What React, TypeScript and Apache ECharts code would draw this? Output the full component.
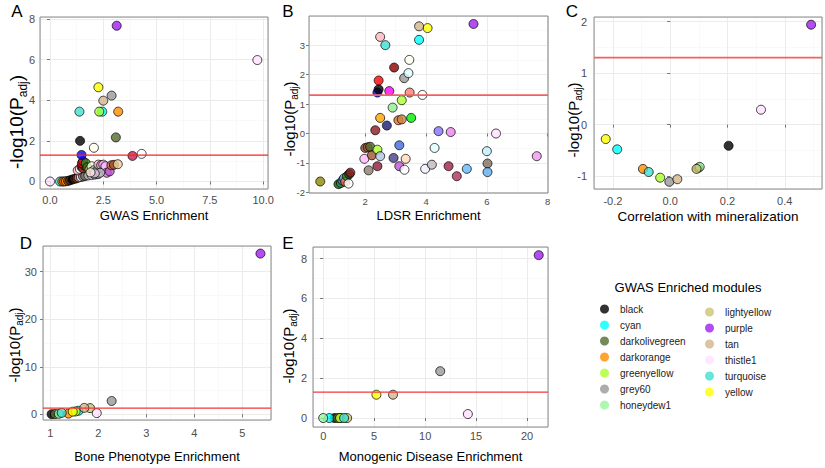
import React, { useEffect, useRef } from 'react';
import * as echarts from 'echarts';

const FONT = '"Liberation Sans", Arial, Helvetica, sans-serif';

// ---- GWAS enriched modules (legend, panels C, D, E) ----
const modules = ['black', 'cyan', 'darkolivegreen', 'darkorange', 'greenyellow', 'grey60', 'honeydew1',
  'lightyellow', 'purple', 'tan', 'thistle1', 'turquoise', 'yellow'];
const moduleColors = ['#000000', '#00FFFF', '#556B2F', '#FF8C00', '#ADFF2F', '#999999', '#98F5A0',
  '#CDC673', '#A020F0', '#D2B48C', '#FFE1FF', '#40E0D0', '#FFFF00'];

// Panel C: correlation with mineralization vs -log10(Padj)
const corrX = [0.204, -0.185, 0.098, -0.095, -0.035, -0.003, 0.103, 0.092, 0.492, 0.025, 0.317, -0.075, -0.225];
const corrY = [-0.41, -0.48, -0.84, -0.86, -1.03, -1.11, -0.82, -0.86, 1.94, -1.06, 0.29, -0.92, -0.28];

// Panel D: bone phenotype enrichment
const boneX = [1.03, 1.59, 1.1, 1.38, 1.53, 2.28, 1.18, 1.83, 5.38, 1.71, 1.97, 1.24, 1.47];
const boneY = [0.03, 0.75, 0.05, 0.15, 0.6, 2.8, 0.1, 1.3, 33.8, 1.35, 0.25, 0.3, 0.55];

// Panel E: monogenic disease enrichment
const monoX = [1.1, 0.6, 1.4, 1.7, 1.65, 11.48, 0.0, 2.35, 21.14, 6.85, 14.19, 2.05, 5.22];
const monoY = [0, 0, 0, 0, 0, 2.35, 0, 0, 8.17, 1.17, 0.2, 0, 1.17];

// Panel A: GWAS enrichment [x, y, module colour]
const gwasPoints: [number, number, string][] = [
  [0.0, 0.0, '#FFE1FF'], [0.47, 0.0, '#40E0D0'], [0.58, 0.0, '#FF7F24'], [0.66, 0.0, '#CD661D'],
  [0.75, 0.01, '#FF8C00'], [0.85, 0.03, '#8B4513'], [0.94, 0.06, '#2F2F2F'], [1.05, 0.1, '#000000'],
  [1.15, 0.13, '#4A2A0A'], [1.25, 0.16, '#8B2323'], [1.35, 0.2, '#CD9B9B'], [1.45, 0.22, '#FFFFFF'],
  [1.55, 0.25, '#8B8378'], [1.65, 0.27, '#6E6E6E'], [1.8, 0.3, '#BEBEBE'], [1.95, 0.32, '#D3D3D3'],
  [2.1, 0.34, '#A9A9A9'], [2.25, 0.36, '#B0B0B0'],
  [1.3, 0.55, '#FFC0CB'], [1.4, 0.62, '#FFFFFF'], [1.48, 0.72, '#8B0000'], [1.55, 0.65, '#A52A2A'],
  [1.6, 0.8, '#006400'], [1.5, 0.9, '#FF0000'], [1.55, 1.0, '#B22222'], [1.68, 0.9, '#228B22'],
  [1.75, 0.7, '#556B2F'], [1.85, 0.6, '#9ACD32'], [1.95, 0.75, '#FFFFE0'], [2.05, 0.55, '#ADD8E6'],
  [2.15, 0.48, '#87CEEB'], [2.27, 0.83, '#FFB6C1'], [2.4, 0.8, '#DDA0DD'], [2.5, 0.83, '#EEAEEE'],
  [2.6, 0.75, '#FFBBFF'], [2.66, 0.43, '#DA70D6'], [2.8, 0.5, '#BA55D3'], [2.88, 0.8, '#CD6839'],
  [3.0, 0.82, '#A0522D'], [3.18, 0.85, '#EECFA1'], [2.35, 0.43, '#BEBEBE'], [2.1, 0.4, '#D8BFD8'],
  [1.9, 0.45, '#FFE4E1'],
  [4.3, 1.36, '#FFFFFF'], [3.87, 1.26, '#C71F4F'], [1.48, 1.31, '#0000FF'], [2.06, 1.66, '#FFFFF0'],
  [3.09, 2.17, '#556B2F'], [1.41, 2.0, '#000000'], [3.2, 3.44, '#FF8C00'], [2.45, 3.44, '#00FFFF'],
  [2.31, 3.44, '#ADFF2F'], [1.38, 3.44, '#40E0D0'], [2.5, 3.98, '#D2B48C'], [2.89, 4.23, '#999999'],
  [2.27, 4.64, '#FFFF00'], [9.73, 5.98, '#FFE1FF'], [3.13, 7.67, '#A020F0'],
];

// Panel B: LDSR enrichment [x, y, module colour]
const ldsrPoints: [number, number, string][] = [
  [0.52, -1.63, '#8B8B00'], [1.12, -1.72, '#006400'], [1.2, -1.68, '#2E8B57'], [1.25, -1.6, '#4682B4'],
  [1.3, -1.52, '#6CA6CD'], [1.34, -1.64, '#FF6347'], [1.4, -1.45, '#228B22'], [1.45, -1.7, '#FFFFFF'],
  [1.47, -1.38, '#2F4F2F'], [1.51, -1.33, '#8B1A1A'],
  [1.97, -0.86, '#FFBBFF'], [2.0, -0.49, '#8B4C39'], [2.08, -0.47, '#A0522D'], [2.16, -0.45, '#556B2F'],
  [2.11, -1.25, '#8B7D6B'], [2.22, -0.74, '#A0522D'], [2.4, -0.55, '#ADFF2F'], [2.49, -0.77, '#B0C4DE'],
  [2.4, -1.11, '#8B1C3A'], [2.93, -0.83, '#483D8B'], [3.12, -0.4, '#4169E1'], [3.12, -1.11, '#BA55D3'],
  [3.29, -1.23, '#FFFFFF'], [3.33, -0.86, '#FFDAB9'], [3.97, -1.2, '#F0F0FF'], [4.19, -1.06, '#C0B8C0'],
  [4.28, -0.49, '#E0FFFF'], [4.74, -1.11, '#A0204A'], [5.01, -1.45, '#B03060'], [5.34, -1.2, '#63B8FF'],
  [6.0, -0.6, '#BFEFFF'], [6.02, -1.02, '#7F6F5F'], [6.02, -1.31, '#5CACEE'], [7.64, -0.77, '#EE99EE'],
  [2.33, 0.11, '#8B1A1A'], [2.71, 0.27, '#191970'], [3.09, 0.45, '#E07030'], [3.2, 0.48, '#CD853F'],
  [2.49, 0.53, '#FFA500'], [3.51, 0.53, '#00EE00'], [2.9, 0.88, '#90EE90'], [3.2, 1.13, '#ADFF2F'],
  [4.41, 0.08, '#8470FF'], [4.81, 0.05, '#EE82EE'], [6.3, 0.0, '#FFE1FF'],
  [2.4, 1.39, '#0000FF'], [2.44, 1.5, '#000000'], [2.79, 1.44, '#FF00FF'], [3.46, 1.39, '#FA8072'],
  [3.88, 1.31, '#FFFFFF'], [2.44, 1.8, '#FF0000'], [3.28, 1.88, '#999999'], [3.42, 2.05, '#E0FFFF'],
  [2.95, 2.24, '#8B0000'], [3.45, 2.5, '#FFFFF0'], [2.66, 3.0, '#40E0D0'], [3.77, 3.18, '#00FFFF'],
  [2.49, 3.28, '#FFB6C1'], [4.05, 3.58, '#FFFF00'], [3.77, 3.64, '#D2B48C'], [5.56, 3.72, '#A020F0'],
];

const threshold = 1.3; // -log10(0.05)

const panelLetters = ['A', 'B', 'C', 'D', 'E'];
const xTitles = ['GWAS Enrichment', 'LDSR Enrichment', 'Correlation with mineralization',
  'Bone Phenotype Enrichment', 'Monogenic Disease Enrichment'];
const xSteps = [2.5, 2, 0.2, 1, 5];
const ySteps = [2, 1, 1, 10, 2];
const xDecimals = [1, 0, 1, 0, 0];
const xRanges = [[-0.47, 10.23], [0.15, 8.01], [-0.266, 0.53], [0.85, 5.6], [-1.0, 22.05]];
const yRanges = [[-0.37, 8.1], [-2.02, 3.99], [-1.25, 2.09], [-1.2, 35.4], [-0.45, 8.58]];

// ---- layout (positions/styles) ----
// yt: centre of the rotated y title
const LAYOUT = [
  { grid: { left: 40, top: 17, width: 228, height: 172 }, letter: [17, 11], tick: 11, xm: 5, ym: 5, xGap: 20, yt: [16, 122], xName: 13, yName: 19, ySub: 12, red: '#FF2020', redW: 1.3 },
  { grid: { left: 309, top: 16, width: 239, height: 177 }, letter: [288, 11], tick: 9.5, xm: 3, ym: 4, xGap: 16, yt: [289, 119], xName: 13, yName: 15, ySub: 10, red: '#F26060', redW: 1.8 },
  { grid: { left: 594, top: 17, width: 228, height: 172 }, letter: [572, 11], tick: 11, xm: 6, ym: 7, xGap: 20, yt: [573, 120], xName: 13.5, yName: 15, ySub: 10, red: '#F26060', redW: 1.8 },
  { grid: { left: 43, top: 246, width: 228, height: 174 }, letter: [26, 243], tick: 11, xm: 7, ym: 6, xGap: 30, yt: [14, 345], xName: 13, yName: 15, ySub: 10, red: '#F03838', redW: 1.2 },
  { grid: { left: 313, top: 247, width: 235, height: 180 }, letter: [288, 243], tick: 11, xm: 3, ym: 6, xGap: 23, yt: [288, 346], xName: 13, yName: 15, ySub: 10, red: '#F03838', redW: 1.2 },
];

function buildOption(): any {
  const grid = LAYOUT.map((l) => ({
    ...l.grid, show: true, backgroundColor: 'transparent', borderColor: '#8a8a8a', borderWidth: 1, z: 2,
  }));
  const common = (i: number) => ({
    type: 'value', gridIndex: i, z: 1,
    axisLine: { show: false },
    axisTick: { show: true, length: 3, lineStyle: { color: '#555', width: 0.8 } },
    splitLine: { show: true, lineStyle: { color: '#EBEBEB', width: 1 } },
    minorTick: { show: false, splitNumber: 2 },
    minorSplitLine: { show: true, lineStyle: { color: '#F5F5F5', width: 0.6 } },
  });
  const xAxis = LAYOUT.map((l, i) => ({
    ...common(i),
    min: xRanges[i][0], max: xRanges[i][1], minInterval: xSteps[i], maxInterval: xSteps[i], splitNumber: 5,
    axisLabel: {
      color: '#4d4d4d', fontSize: l.tick, fontFamily: FONT, margin: l.xm, showMinLabel: false, showMaxLabel: false,
      formatter: (v: number) => v.toFixed(xDecimals[i]),
    },
    name: xTitles[i], nameLocation: 'middle', nameGap: l.xGap,
    nameTextStyle: { fontSize: l.xName, color: '#000', fontFamily: FONT },
  }));
  const yAxis = LAYOUT.map((l, i) => ({
    ...common(i),
    min: yRanges[i][0], max: yRanges[i][1], minInterval: ySteps[i], maxInterval: ySteps[i], splitNumber: 5,
    axisLabel: {
      color: '#4d4d4d', fontSize: l.tick, fontFamily: FONT, margin: l.ym, showMinLabel: false, showMaxLabel: false,
      formatter: (v: number) => String(Math.round(v)),
    },
  }));

  const pointStyle = { borderColor: '#000', borderWidth: 0.9 };
  const series: any[] = [];
  series.push({
    name: 'GWAS', type: 'scatter', xAxisIndex: 0, yAxisIndex: 0, symbolSize: 9, z: 3,
    itemStyle: pointStyle,
    data: gwasPoints.map((p) => ({ value: [p[0], p[1]], itemStyle: { color: p[2] } })),
  });
  series.push({
    name: 'LDSR', type: 'scatter', xAxisIndex: 1, yAxisIndex: 1, symbolSize: 9, z: 3,
    itemStyle: pointStyle,
    data: ldsrPoints.map((p) => ({ value: [p[0], p[1]], itemStyle: { color: p[2] } })),
  });
  const perModule = [
    { idx: 2, xs: corrX, ys: corrY },
    { idx: 3, xs: boneX, ys: boneY },
    { idx: 4, xs: monoX, ys: monoY },
  ];
  perModule.forEach((pm) => {
    modules.forEach((m, k) => {
      series.push({
        name: m, type: 'scatter', xAxisIndex: pm.idx, yAxisIndex: pm.idx, symbolSize: 9, z: 3,
        itemStyle: { ...pointStyle, color: moduleColors[k] },
        data: [[pm.xs[k], pm.ys[k]]],
      });
    });
  });
  // significance threshold (Padj = 0.05) across each panel
  LAYOUT.forEach((l, i) => {
    series.push({
      name: 'Padj 0.05 #' + i, type: 'line', xAxisIndex: i, yAxisIndex: i, z: 5, silent: true,
      symbol: 'none', showSymbol: false, color: l.red,
      lineStyle: { color: l.red, width: l.redW, type: 'solid' },
      itemStyle: { color: l.red },
      data: [[xRanges[i][0], threshold], [xRanges[i][1], threshold]],
    });
  });

  const legendCommon = {
    orient: 'vertical', icon: 'circle', itemWidth: 21, itemHeight: 9, itemGap: 6, selectedMode: false,
    textStyle: { fontSize: 10, color: '#222', fontFamily: FONT },
    itemStyle: { borderWidth: 0 },
  };

  return {
    animation: false,
    backgroundColor: '#ffffff',
    grid, xAxis, yAxis, series,
    legend: [
      { ...legendCommon, data: modules.slice(0, 7), left: 595, top: 299 },
      { ...legendCommon, data: modules.slice(7), left: 700, top: 302 },
    ],
    graphic: [
      ...LAYOUT.map((l, i) => ({
        type: 'text', x: l.letter[0], y: l.letter[1], z: 10,
        style: { text: panelLetters[i], fontSize: 17, fontFamily: FONT, fill: '#000', textAlign: 'center', textVerticalAlign: 'middle' },
      })),
      ...LAYOUT.map((l) => ({
        type: 'text', x: l.yt[0], y: l.yt[1], rotation: Math.PI / 2, z: 10,
        style: {
          text: '{t|-log10(P}{s|adj}{t|)}', textAlign: 'center', textVerticalAlign: 'middle',
          rich: {
            t: { fontSize: l.yName, fill: '#000', fontFamily: FONT },
            s: { fontSize: l.ySub, fill: '#000', fontFamily: FONT, padding: [Math.round(l.ySub * 1.1), 0, 0, 0] },
          },
        },
      })),
      {
        type: 'text', x: 688, y: 287, z: 10,
        style: { text: 'GWAS Enriched modules', fontSize: 13, fontFamily: FONT, fill: '#000', textAlign: 'center', textVerticalAlign: 'middle' },
      },
    ],
  };
}

export default function App() {
  const ref = useRef<HTMLDivElement>(null);
  useEffect(() => {
    if (!ref.current) return;
    const chart = echarts.init(ref.current, undefined, { renderer: 'svg' });
    chart.setOption(buildOption());
    return () => chart.dispose();
  }, []);
  return <div ref={ref} style={{ position: 'absolute', left: 0, top: 0, width: 825, height: 468 }} />;
}
